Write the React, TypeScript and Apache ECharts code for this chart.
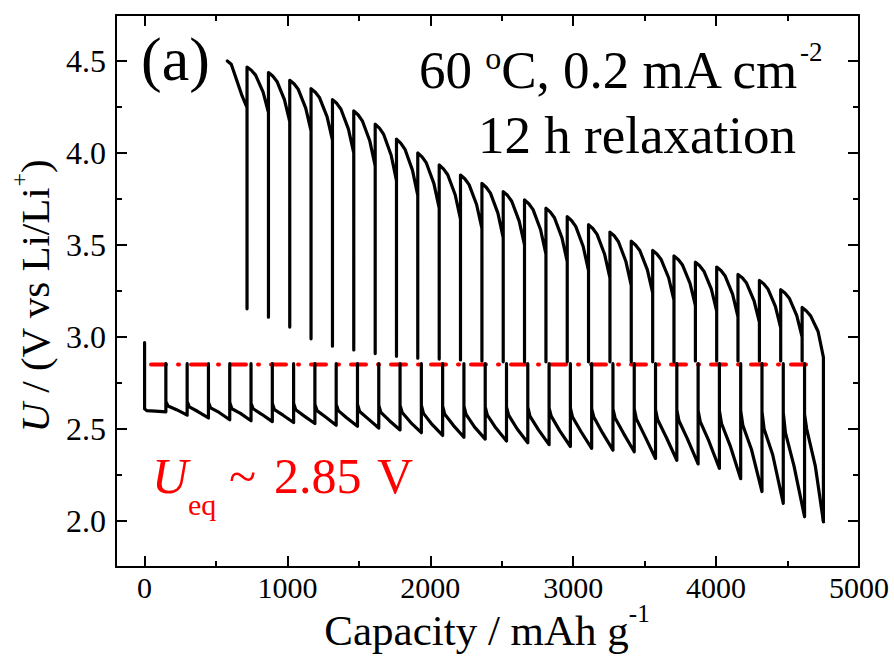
import React, { useEffect, useRef } from "react";
import * as echarts from "echarts";

// ---------- axis ticks ----------
const xMajorTicks = [0, 1000, 2000, 3000, 4000, 5000];
const xMinorTicks = [500, 1500, 2500, 3500, 4500];
const yMajorTicks = [2.0, 2.5, 3.0, 3.5, 4.0, 4.5];
const yMinorTicks = [2.25, 2.75, 3.25, 3.75, 4.25];

// ---------- discharge (lower curve), pulse boundaries in mAh/g ----------
const initialOcv = 2.97;
const dischargeCap = [
  0, 149, 298, 447, 596, 745, 894, 1043, 1192, 1341, 1490, 1639, 1788, 1937, 2086, 2235,
  2384, 2533, 2682, 2831, 2980, 3129, 3278, 3427, 3576, 3725, 3874, 4023, 4172, 4321, 4470,
  4619, 4751,
];
// voltage right after the current is switched on
const dischargeStart = [
  2.61, 2.65, 2.65, 2.645, 2.645, 2.64, 2.64, 2.64, 2.635, 2.635, 2.635, 2.63, 2.63, 2.63,
  2.625, 2.625, 2.62, 2.62, 2.62, 2.615, 2.615, 2.61, 2.61, 2.61, 2.605, 2.605, 2.6, 2.6, 2.6,
  2.595, 2.59, 2.58,
];
// voltage ~15 mAh/g into the pulse
const dischargeKnee = [
  2.6, 2.625, 2.62, 2.615, 2.61, 2.61, 2.605, 2.605, 2.6, 2.6, 2.595, 2.59, 2.59, 2.585, 2.58,
  2.58, 2.575, 2.575, 2.57, 2.57, 2.565, 2.565, 2.56, 2.555, 2.55, 2.545, 2.54, 2.53, 2.52, 2.5,
  2.48, 2.5,
];
// voltage ~75 mAh/g into the pulse
const dischargeMid = [
  2.597, 2.605, 2.595, 2.59, 2.585, 2.58, 2.575, 2.57, 2.565, 2.56, 2.555, 2.545, 2.535, 2.525,
  2.52, 2.51, 2.505, 2.5, 2.495, 2.49, 2.485, 2.48, 2.475, 2.46, 2.455, 2.445, 2.435, 2.41, 2.39,
  2.36, 2.3, 2.3,
];
// voltage at the end of each pulse
const dischargeEnd = [
  2.593, 2.575, 2.56, 2.55, 2.545, 2.54, 2.535, 2.53, 2.52, 2.515, 2.505, 2.495, 2.48, 2.465,
  2.455, 2.445, 2.435, 2.425, 2.415, 2.405, 2.395, 2.385, 2.376, 2.34, 2.33, 2.31, 2.286, 2.23,
  2.16, 2.096, 2.023, 1.996,
];
// voltage after each 12 h relaxation
const dischargeRelax = [
  2.855, 2.855, 2.855, 2.855, 2.855, 2.855, 2.855, 2.855, 2.855, 2.855, 2.855, 2.855, 2.855,
  2.855, 2.855, 2.855, 2.855, 2.855, 2.855, 2.855, 2.855, 2.855, 2.855, 2.855, 2.855, 2.855,
  2.855, 2.855, 2.855, 2.855, 2.855,
];

// ---------- charge (upper curve), plotted right to left ----------
const chargeCap = [
  4751, 4602, 4452, 4303, 4153, 4004, 3855, 3705, 3556, 3406, 3257, 3107, 2958, 2809, 2659,
  2510, 2361, 2211, 2062, 1912, 1763, 1614, 1464, 1315, 1165, 1016, 867, 717, 579,
];
const chargeStart = [
  2.89, 3.0, 3.05, 3.08, 3.11, 3.14, 3.17, 3.2, 3.24, 3.28, 3.32, 3.36, 3.41, 3.45, 3.5, 3.54,
  3.59, 3.64, 3.7, 3.77, 3.85, 3.93, 4.0, 4.07, 4.12, 4.17, 4.22, 4.247,
];
const chargeQuarter = [
  3.03, 3.116, 3.166, 3.197, 3.232, 3.26, 3.292, 3.322, 3.366, 3.41, 3.45, 3.492, 3.54, 3.583,
  3.63, 3.673, 3.72, 3.773, 3.835, 3.907, 3.988, 4.065, 4.13, 4.196, 4.244, 4.29, 4.331, 4.31,
];
const chargeMid = [
  3.115, 3.211, 3.261, 3.293, 3.331, 3.358, 3.391, 3.421, 3.47, 3.518, 3.558, 3.601, 3.648,
  3.692, 3.738, 3.782, 3.828, 3.882, 3.946, 4.02, 4.101, 4.175, 4.238, 4.3, 4.346, 4.389, 4.423,
  4.42,
];
const chargeNearPeak = [
  3.141, 3.239, 3.289, 3.322, 3.361, 3.387, 3.421, 3.451, 3.5, 3.55, 3.59, 3.633, 3.68, 3.724,
  3.77, 3.814, 3.86, 3.914, 3.979, 4.054, 4.135, 4.208, 4.27, 4.33, 4.376, 4.418, 4.45, 4.482,
];
const chargePeak = [
  3.16, 3.257, 3.307, 3.34, 3.38, 3.406, 3.44, 3.47, 3.52, 3.57, 3.61, 3.654, 3.7, 3.745, 3.79,
  3.835, 3.88, 3.935, 4.0, 4.075, 4.156, 4.229, 4.29, 4.35, 4.395, 4.437, 4.467, 4.5,
];
const chargeRelax = [
  2.87, 2.87, 2.87, 2.87, 2.87, 2.87, 2.865, 2.865, 2.865, 2.865, 2.865, 2.865, 2.865, 2.865,
  2.865, 2.87, 2.875, 2.88, 2.885, 2.895, 2.91, 2.93, 2.95, 2.99, 3.054, 3.108, 3.153,
];

// ---------- equilibrium line ----------
const eqVoltage = 2.85;
const eqLineCap = [45, 4660];

function buildDischarge(): number[][] {
  const pts: number[][] = [[dischargeCap[0], initialOcv]];
  for (let k = 0; k < dischargeStart.length; k++) {
    const x0 = dischargeCap[k];
    const x1 = dischargeCap[k + 1];
    if (k > 0) pts.push([x0, dischargeRelax[k - 1]]);
    pts.push([x0, dischargeStart[k]]);
    pts.push([x0 + 15, dischargeKnee[k]]);
    pts.push([x0 + 75, dischargeMid[k]]);
    pts.push([x1, dischargeEnd[k]]);
  }
  return pts;
}

function buildCharge(): number[][] {
  const pts: number[][] = [[chargeCap[0], dischargeEnd[dischargeEnd.length - 1]]];
  for (let j = 0; j < chargeStart.length; j++) {
    const x0 = chargeCap[j];
    const x1 = chargeCap[j + 1];
    const w = x0 - x1;
    if (j > 0) pts.push([x0, chargeRelax[j - 1]]);
    pts.push([x0, chargeStart[j]]);
    pts.push([x0 - 0.25 * w, chargeQuarter[j]]);
    pts.push([x0 - 0.6 * w, chargeMid[j]]);
    pts.push([x0 - 0.8 * w, chargeNearPeak[j]]);
    pts.push([x1, chargePeak[j]]);
  }
  return pts;
}

const FONT = "Liberation Serif, Times New Roman, serif";

let measureCtx: CanvasRenderingContext2D | null = null;
function measure(text: string, size: number, italic?: boolean): number {
  if (!measureCtx) measureCtx = document.createElement("canvas").getContext("2d");
  if (!measureCtx) return text.length * size * 0.5;
  measureCtx.font = `${italic ? "italic " : ""}${size}px ${FONT}`;
  return measureCtx.measureText(text).width;
}

type Piece = { text: string; size: number; italic?: boolean; dy?: number; x?: number };

function runText(pieces: Piece[], x: number, baseline: number, color: string): any[] {
  let cx = x;
  const out: any[] = [];
  for (const p of pieces) {
    const px = p.x !== undefined ? p.x : cx;
    const by = baseline + (p.dy || 0);
    out.push({
      type: "text",
      x: px,
      y: by - 0.3375 * p.size,
      silent: true,
      style: {
        text: p.text,
        fill: color,
        fontSize: p.size,
        fontFamily: FONT,
        fontStyle: p.italic ? "italic" : "normal",
        align: "left",
        verticalAlign: "middle",
      },
    });
    cx = px + measure(p.text, p.size, p.italic);
  }
  return out;
}

function totalWidth(pieces: Piece[]): number {
  return pieces.reduce((s, p) => s + measure(p.text, p.size, p.italic), 0);
}

export default function App() {
  const ref = useRef<HTMLDivElement>(null);

  useEffect(() => {
    if (!ref.current) return;
    const chart = echarts.init(ref.current, undefined, { renderer: "svg" });

    const axisLine = { show: true, onZero: false, lineStyle: { color: "#000", width: 2 } };
    const majorTick = (vals: number[]) => ({
      show: true,
      inside: true,
      length: 11,
      customValues: vals,
      lineStyle: { color: "#000", width: 2 },
    });
    const minorTick = (vals: number[]) => ({
      show: true,
      inside: true,
      length: 6,
      customValues: vals,
      lineStyle: { color: "#000", width: 2 },
    });

    const xBase = { type: "value", min: -200, max: 5000, splitLine: { show: false } };
    const yBase = { type: "value", min: 1.75, max: 4.75, splitLine: { show: false } };

    const xTitle: Piece[] = [
      { text: "Capacity / mAh g", size: 43 },
      { text: "-1", size: 25, dy: -23 },
    ];
    const yTitle: Piece[] = [
      { text: "U", size: 41, italic: true },
      { text: " / (V vs Li/Li", size: 41 },
      { text: "+", size: 24, dy: -22 },
      { text: ")", size: 41 },
    ];
    const xTitleW = totalWidth(xTitle);
    const yTitleW = totalWidth(yTitle);

    const graphics: any[] = [
      ...runText([{ text: "(a)", size: 62 }], 141, 80, "#000"),
      ...runText(
        [
          { text: "60 ", size: 53 },
          { text: "o", size: 32, dy: -19 },
          { text: "C, 0.2 mA cm", size: 53 },
          { text: "-2", size: 27, dy: -27 },
        ],
        419,
        88,
        "#000"
      ),
      ...runText([{ text: "12 h relaxation", size: 53 }], 478, 153, "#000"),
      ...runText(
        [
          { text: "U", size: 50, italic: true, x: 152 },
          { text: "eq", size: 30, dy: 22, x: 188 },
          { text: "~", size: 50, x: 229 },
          { text: "2.85", size: 50, x: 274 },
          { text: "V", size: 50, x: 377 },
        ],
        152,
        493,
        "#ff0000"
      ),
      ...runText(xTitle, 487 - xTitleW / 2, 645, "#000"),
      {
        type: "group",
        x: 49,
        y: 296,
        rotation: Math.PI / 2,
        children: runText(yTitle, -yTitleW / 2, 0, "#000"),
      },
    ];

    chart.setOption({
      animation: false,
      backgroundColor: "#fff",
      textStyle: { fontFamily: FONT },
      grid: {
        left: 116,
        right: 35,
        top: 15,
        bottom: 90,
        containLabel: false,
        outerBoundsMode: "none",
      },
      xAxis: [
        {
          ...xBase,
          position: "bottom",
          axisLine,
          axisTick: majorTick(xMajorTicks),
          axisLabel: {
            color: "#000",
            fontSize: 30,
            fontFamily: FONT,
            margin: 5,
            customValues: xMajorTicks,
            formatter: (v: number) => String(v),
          },
        },
        {
          ...xBase,
          position: "bottom",
          axisLine: { show: false, onZero: false },
          axisTick: minorTick(xMinorTicks),
          axisLabel: { show: false },
        },
        {
          ...xBase,
          position: "top",
          axisLine,
          axisTick: majorTick(xMajorTicks),
          axisLabel: { show: false },
        },
        {
          ...xBase,
          position: "top",
          axisLine: { show: false, onZero: false },
          axisTick: minorTick(xMinorTicks),
          axisLabel: { show: false },
        },
      ],
      yAxis: [
        {
          ...yBase,
          position: "left",
          axisLine,
          axisTick: majorTick(yMajorTicks),
          axisLabel: {
            color: "#000",
            fontSize: 32,
            fontFamily: FONT,
            margin: 10,
            customValues: yMajorTicks,
            formatter: (v: number) => v.toFixed(1),
          },
        },
        {
          ...yBase,
          position: "left",
          axisLine: { show: false, onZero: false },
          axisTick: minorTick(yMinorTicks),
          axisLabel: { show: false },
        },
        {
          ...yBase,
          position: "right",
          axisLine,
          axisTick: majorTick(yMajorTicks),
          axisLabel: { show: false },
        },
        {
          ...yBase,
          position: "right",
          axisLine: { show: false, onZero: false },
          axisTick: minorTick(yMinorTicks),
          axisLabel: { show: false },
        },
      ],
      series: [
        {
          name: "Ueq",
          type: "line",
          xAxisIndex: 0,
          yAxisIndex: 0,
          showSymbol: false,
          symbol: "none",
          z: 1,
          data: eqLineCap.map((c) => [c, eqVoltage]),
          lineStyle: { color: "#ff0000", width: 4, type: [15, 12, 1, 12], cap: "round" },
        },
        {
          name: "discharge",
          type: "line",
          xAxisIndex: 0,
          yAxisIndex: 0,
          showSymbol: false,
          symbol: "none",
          z: 2,
          data: buildDischarge(),
          lineStyle: { color: "#000", width: 3.2, join: "round", cap: "round" },
        },
        {
          name: "charge",
          type: "line",
          xAxisIndex: 0,
          yAxisIndex: 0,
          showSymbol: false,
          symbol: "none",
          z: 2,
          data: buildCharge(),
          lineStyle: { color: "#000", width: 3.2, join: "round", cap: "round" },
        },
      ],
      graphic: graphics,
    });

    return () => chart.dispose();
  }, []);

  return (
    <div
      ref={ref}
      style={{ position: "fixed", left: 0, top: 0, width: 894, height: 657, background: "#fff" }}
    />
  );
}
